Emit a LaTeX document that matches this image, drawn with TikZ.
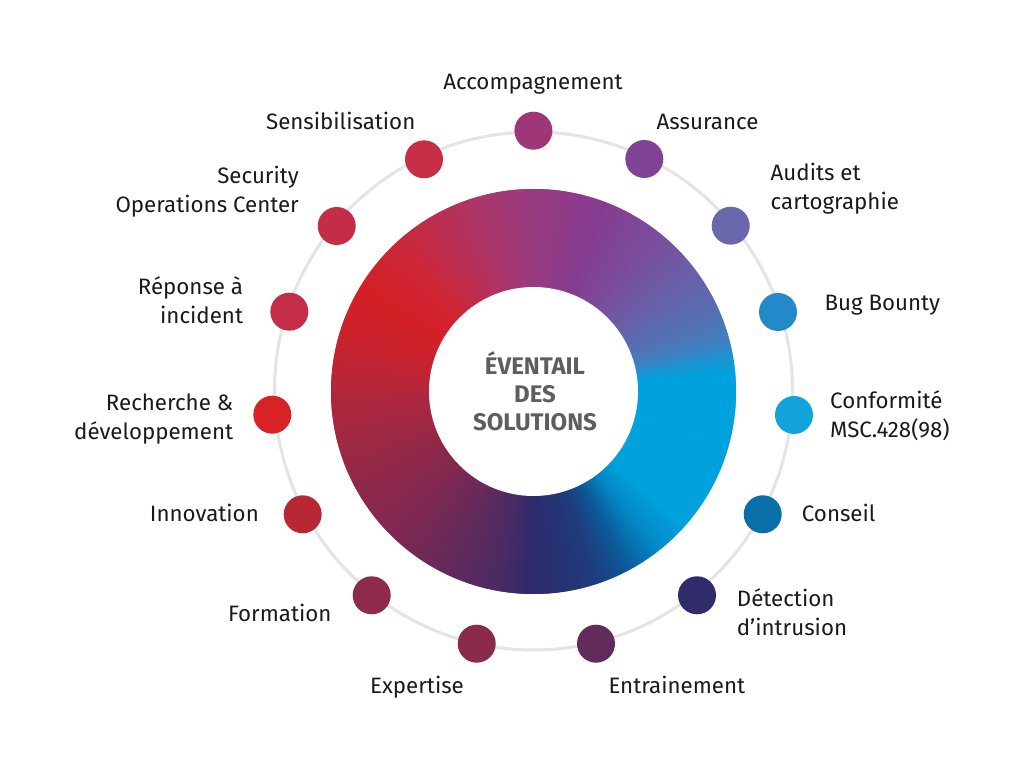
\documentclass[tikz,border=0pt]{standalone}
\usepackage{fontspec}
\setmainfont{Fira Sans}
\definecolor{gA}{HTML}{2D2A6B}
\definecolor{gB}{HTML}{1F3B7C}
\definecolor{gC}{HTML}{0B5A98}
\definecolor{gD}{HTML}{0388C6}
\definecolor{gE}{HTML}{00A1DC}
\definecolor{gF}{HTML}{00A2DD}
\definecolor{gG}{HTML}{1C93D2}
\definecolor{gH}{HTML}{3C82C2}
\definecolor{gI}{HTML}{5272B4}
\definecolor{gJ}{HTML}{6861AA}
\definecolor{gK}{HTML}{7A4D9C}
\definecolor{gL}{HTML}{853C90}
\definecolor{gM}{HTML}{993A80}
\definecolor{gN}{HTML}{A9366C}
\definecolor{gO}{HTML}{BD2E50}
\definecolor{gP}{HTML}{CE2535}
\definecolor{gQ}{HTML}{D42025}
\definecolor{gR}{HTML}{C9232F}
\definecolor{gS}{HTML}{B3263B}
\definecolor{gT}{HTML}{9A2845}
\definecolor{gU}{HTML}{802850}
\definecolor{gV}{HTML}{632A5C}
\definecolor{gW}{HTML}{4A2A65}
\definecolor{cAcc}{HTML}{9E3678}
\definecolor{cAss}{HTML}{7F4294}
\definecolor{cAud}{HTML}{6A67AC}
\definecolor{cBug}{HTML}{2389C9}
\definecolor{cConf}{HTML}{12A2DC}
\definecolor{cCons}{HTML}{0A6EA9}
\definecolor{cDet}{HTML}{302C6C}
\definecolor{cEnt}{HTML}{612B5C}
\definecolor{cExp}{HTML}{8C2A4B}
\definecolor{cForm}{HTML}{8E2A4B}
\definecolor{cInno}{HTML}{B72834}
\definecolor{cRech}{HTML}{D72226}
\definecolor{cRep}{HTML}{C42E48}
\definecolor{cSoc}{HTML}{C42D47}
\definecolor{cSens}{HTML}{C62F46}
\definecolor{ringgray}{HTML}{E4E4E4}
\definecolor{labeltext}{HTML}{1A1A1A}
\definecolor{centertext}{HTML}{5E5E5E}
\newcommand\gseg[4]{%
  \pgfmathtruncatemacro\gNn{#2-#1-1}%
  \foreach \i in {0,...,\gNn}{%
    \pgfmathsetmacro\gAa{#1+\i}%
    \pgfmathsetmacro\gBb{#1+\i+1.7}%
    \pgfmathtruncatemacro\gPp{100-100*(\i+0.5)/(#2-#1)}%
    \fill[#3!\gPp!#4] (C) -- ++(\gAa:203pt) arc[start angle=\gAa, end angle=\gBb, radius=203pt] -- cycle;
  }}
\begin{document}
\begin{tikzpicture}[x=1pt,y=1pt,
  dot/.style={circle, fill=#1, minimum size=38pt, inner sep=0pt},
  lbl/.style={text=labeltext, font=\fontsize{22.3}{29}\selectfont, inner sep=0pt},
  ctr/.style={text=centertext, font=\fontsize{24}{28}\selectfont\bfseries, inner sep=0pt}]
\useasboundingbox (0,0) rectangle (1024,768);
\fill[white] (0,0) rectangle (1024,768);
\coordinate (C) at (533.5,376.5);
\coordinate (R) at (533.5,377);
% gray ring
\draw[ringgray, line width=3pt] (R) circle[radius=259pt];
% donut with angular gradient
\gseg{-90}{-72}{gA}{gB}
\gseg{-72}{-62}{gB}{gC}
\gseg{-62}{-52}{gC}{gD}
\gseg{-52}{-42}{gD}{gE}
\gseg{-42}{5}{gE}{gF}
\gseg{5}{10}{gF}{gG}
\gseg{10}{14}{gG}{gH}
\gseg{14}{22}{gH}{gI}
\gseg{22}{35}{gI}{gJ}
\gseg{35}{52}{gJ}{gK}
\gseg{52}{70}{gK}{gL}
\gseg{70}{90}{gL}{gM}
\gseg{90}{105}{gM}{gN}
\gseg{105}{120}{gN}{gO}
\gseg{120}{135}{gO}{gP}
\gseg{135}{150}{gP}{gQ}
\gseg{150}{165}{gQ}{gR}
\gseg{165}{180}{gR}{gS}
\gseg{180}{200}{gS}{gT}
\gseg{200}{225}{gT}{gU}
\gseg{225}{245}{gU}{gV}
\gseg{245}{260}{gV}{gW}
\gseg{260}{270}{gW}{gA}
\fill[white] (C) circle[radius=104.5pt];
\draw[white, line width=1.5pt] (C) circle[radius=203.5pt];
% centre text
\node[ctr, anchor=base] (centre) at (535,393)
  {\begin{tabular}[t]{@{}c@{}}ÉVENTAIL\\DES\\SOLUTIONS\end{tabular}};
% dots
\node[dot=cAcc] (dacc) at (533.4,637.3) {};
\node[dot=cAss] (dass) at (644.3,609) {};
\node[dot=cAud] (daud) at (730.7,542.3) {};
\node[dot=cBug] (dbug) at (778,456) {};
\node[dot=cConf] (dconf) at (794,353) {};
\node[dot=cCons] (dcons) at (762.7,253.7) {};
\node[dot=cDet] (ddet) at (697,172.7) {};
\node[dot=cEnt] (dent) at (596,124.3) {};
\node[dot=cExp] (dexp) at (476.7,124.3) {};
\node[dot=cForm] (dform) at (371.7,172.7) {};
\node[dot=cInno] (dinno) at (302.7,253.7) {};
\node[dot=cRech] (drech) at (272.3,353.3) {};
\node[dot=cRep] (drep) at (289.3,456.3) {};
\node[dot=cSoc] (dsoc) at (336.7,542) {};
\node[dot=cSens] (dsens) at (424,608.7) {};
% labels
\node[lbl, anchor=base] (lacc) at (533,678) {Accompagnement};
\node[lbl, anchor=base west] (lass) at (656.5,638) {Assurance};
\node[lbl, anchor=base east] (lsens) at (415.5,638.7) {Sensibilisation};
\node[lbl, anchor=base west] (laud) at (770.5,587.3)
  {\begin{tabular}[t]{@{}l@{}}Audits et\\cartographie\end{tabular}};
\node[lbl, anchor=base west] (lbug) at (824.3,457.3) {Bug Bounty};
\node[lbl, anchor=base west] (lconf) at (830,359.7)
  {\begin{tabular}[t]{@{}l@{}}Conformité\\MSC.428(98)\end{tabular}};
\node[lbl, anchor=base west] (lcons) at (801.7,246.3) {Conseil};
\node[lbl, anchor=base west] (ldet) at (736.7,161)
  {\begin{tabular}[t]{@{}l@{}}Détection\\d'intrusion\end{tabular}};
\node[lbl, anchor=base west] (lent) at (608.3,74.7) {Entrainement};
\node[lbl, anchor=base west] (lexp) at (370,74.7) {Expertise};
\node[lbl, anchor=base east] (lform) at (331.7,146.3) {Formation};
\node[lbl, anchor=base east] (linno) at (259,246.3) {Innovation};
\node[lbl, anchor=base east] (lrech) at (233.3,357.3)
  {\begin{tabular}[t]{@{}r@{}}Recherche \&\\développement\end{tabular}};
\node[lbl, anchor=base east] (lrep) at (243.3,473)
  {\begin{tabular}[t]{@{}r@{}}Réponse à\\incident\end{tabular}};
\node[lbl, anchor=base east] (lsoc) at (299,584.7)
  {\begin{tabular}[t]{@{}r@{}}Security\\Operations Center\end{tabular}};
\end{tikzpicture}
\end{document}
